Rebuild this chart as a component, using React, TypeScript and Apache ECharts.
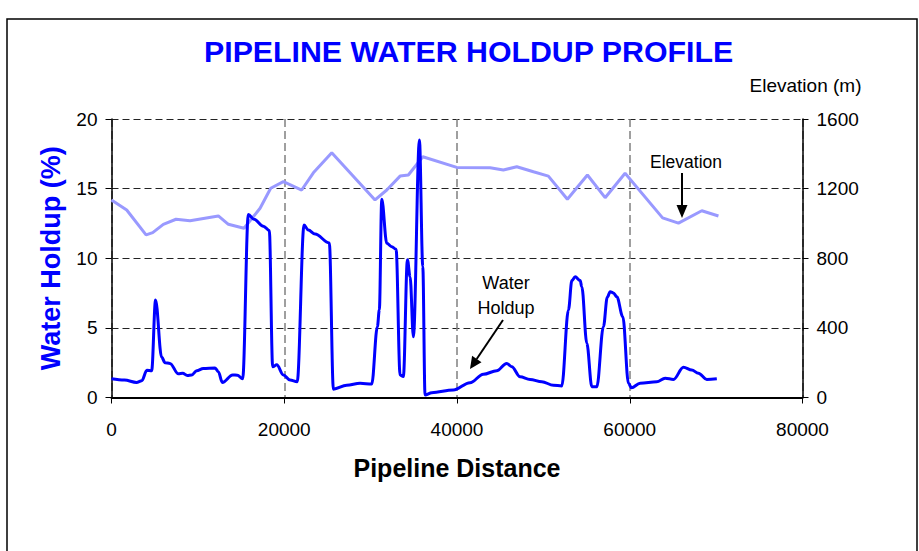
import React, { useEffect, useRef } from "react";
import * as echarts from "echarts";

const titleText = "PIPELINE WATER HOLDUP PROFILE";
const xAxisName = "Pipeline Distance";
const leftAxisName = "Water Holdup (%)";
const rightAxisName = "Elevation (m)";

// [distance, water holdup %]
const holdup: [number, number][] = [
  [0, 1.35], [1500, 1.25], [2900, 1.08], [3500, 1.2], [4100, 1.95], [4650, 1.92],
  [5100, 7.0], [5800, 2.9], [6200, 2.5], [6770, 2.45], [7740, 1.7], [8240, 1.74],
  [8780, 1.58], [9280, 1.62], [9860, 1.92], [10630, 2.08], [11990, 2.12], [12370, 1.85],
  [12830, 1.08], [14030, 1.62], [14570, 1.6], [15190, 1.35], [15840, 13.15], [16500, 12.8],
  [17580, 12.3], [18270, 12.0], [18660, 2.2], [19130, 2.35], [19900, 1.62], [20670, 1.25],
  [21500, 1.13], [22290, 12.38], [22790, 12.02], [23570, 11.74], [25220, 11.1], [25690, 0.6],
  [27230, 0.88], [28780, 1.02], [30130, 0.97], [30780, 5.08], [31010, 6.3], [31290, 14.23],
  [31870, 11.07], [32450, 10.83], [32950, 10.64], [33410, 1.62], [33790, 1.5], [34260, 9.9],
  [34570, 8.67], [34950, 4.36], [35650, 18.5], [36040, 9.4], [36300, 0.18], [37080, 0.35],
  [39580, 0.54], [41510, 1.06], [43050, 1.67], [44600, 1.92], [45760, 2.45], [46340, 2.21],
  [47300, 1.49], [48460, 1.3], [49820, 1.13], [51160, 0.88], [52130, 0.83], [52900, 6.28],
  [53300, 8.4], [53680, 8.67], [54260, 8.4], [54450, 7.95], [55030, 3.89], [55610, 0.78],
  [56190, 0.78], [56950, 5.08], [57400, 7.2], [57730, 7.6], [58110, 7.5], [58500, 7.24],
  [59200, 5.8], [59850, 1.02], [60200, 0.7], [61200, 1.02], [63130, 1.13], [64100, 1.38],
  [65060, 1.3], [66220, 2.17], [67180, 1.97], [67950, 1.74], [68920, 1.3], [70080, 1.35],
];

// [distance, elevation m]
const elevation: [number, number][] = [
  [0, 1135], [1760, 1077], [4000, 934], [4770, 947], [6000, 995], [7470, 1024],
  [9090, 1016], [12370, 1043], [13530, 995], [15340, 972], [17200, 1087], [18430, 1202],
  [19900, 1240], [22020, 1192], [23370, 1291], [25500, 1406], [30510, 1135], [31870, 1192],
  [33410, 1272], [34370, 1278], [36040, 1383], [39970, 1322], [43830, 1320], [45370, 1307],
  [46920, 1326], [48850, 1297], [50580, 1272], [52780, 1139], [55100, 1278], [57150, 1148],
  [59460, 1288], [63800, 1032], [65640, 1002], [68340, 1073], [70270, 1043],
];

const FONT = "'Liberation Sans', Arial, sans-serif";
const plain = (v: number) => String(v);

export default function App() {
  const ref = useRef<HTMLDivElement>(null);
  useEffect(() => {
    if (!ref.current) return;
    const chart = echarts.init(ref.current, undefined, { renderer: "svg" });
    chart.setOption({
      animation: false,
      backgroundColor: "#ffffff",
      textStyle: { fontFamily: FONT },
      title: {
        text: titleText,
        left: 199,
        top: 31,
        textStyle: { color: "#0000ff", fontSize: 30.3, fontWeight: "bold", fontFamily: FONT },
      },
      grid: { left: 111.5, right: 116.5, top: 119, bottom: 153.5 },
      xAxis: {
        type: "value",
        min: 0,
        max: 80000,
        interval: 20000,
        name: xAxisName,
        nameLocation: "middle",
        nameGap: 58,
        nameTextStyle: { fontSize: 25, fontWeight: "bold", color: "#000", fontFamily: FONT },
        axisLine: { show: true, onZero: false, lineStyle: { color: "#000", width: 2 } },
        axisTick: { show: true, length: 6, lineStyle: { color: "#000" } },
        axisLabel: { fontSize: 19, color: "#000", margin: 22, fontFamily: FONT, formatter: plain },
        splitLine: { show: true, lineStyle: { color: "#808080", type: [8, 4], width: 1.5 } },
      },
      yAxis: [
        {
          type: "value",
          min: 0,
          max: 20,
          interval: 5,
          position: "left",
          name: leftAxisName,
          nameLocation: "middle",
          nameGap: 47,
          nameRotate: 90,
          nameTextStyle: { fontSize: 27, fontWeight: "bold", color: "#0000ff", fontFamily: FONT },
          axisLine: { show: true, onZero: false, lineStyle: { color: "#000", width: 1.5 } },
          axisTick: { show: true, length: 6, lineStyle: { color: "#000" } },
          axisLabel: { fontSize: 19, color: "#000", margin: 14, fontFamily: FONT, formatter: plain },
          splitLine: { show: true, lineStyle: { color: "#222", type: [7, 4], width: 1 } },
        },
        {
          type: "value",
          min: 0,
          max: 1600,
          interval: 400,
          position: "right",
          name: rightAxisName,
          nameLocation: "end",
          nameGap: 34,
          nameTextStyle: { fontSize: 19, color: "#000", align: "center", verticalAlign: "middle", padding: [0, 0, 0, 6], fontFamily: FONT },
          axisLine: { show: true, onZero: false, lineStyle: { color: "#000", width: 1.5 } },
          axisTick: { show: true, length: 6, lineStyle: { color: "#000" } },
          axisLabel: { fontSize: 19, color: "#000", margin: 14, fontFamily: FONT, formatter: plain },
          splitLine: { show: false },
        },
      ],
      series: [
        {
          name: "Elevation",
          type: "line",
          yAxisIndex: 1,
          data: elevation,
          symbol: "none",
          lineStyle: { color: "#9999ff", width: 3 },
          z: 2,
        },
        {
          name: "Water Holdup",
          type: "line",
          yAxisIndex: 0,
          data: holdup,
          symbol: "none",
          smooth: 0.35,
          smoothMonotone: "x",
          lineStyle: { color: "#0000ff", width: 3 },
          z: 3,
        },
      ],
      graphic: [
        {
          type: "rect",
          shape: { x: 7, y: 19, width: 910, height: 560 },
          style: { fill: "none", stroke: "#000", lineWidth: 1.5 },
          silent: true,
          z: -1,
        },
        {
          type: "text",
          x: 686,
          y: 162,
          style: { text: "Elevation", fontSize: 17.5, fill: "#000", align: "center", verticalAlign: "middle", fontFamily: FONT },
          z: 10,
        },
        {
          type: "line",
          shape: { x1: 682, y1: 173, x2: 682, y2: 207 },
          style: { stroke: "#000", lineWidth: 2 },
          z: 10,
        },
        {
          type: "polygon",
          shape: { points: [[682, 218], [676.5, 205], [687.5, 205]] },
          style: { fill: "#000" },
          z: 10,
        },
        {
          type: "text",
          x: 506,
          y: 283,
          style: { text: "Water", fontSize: 18, fill: "#000", align: "center", verticalAlign: "middle", fontFamily: FONT },
          z: 10,
        },
        {
          type: "text",
          x: 506,
          y: 308,
          style: { text: "Holdup", fontSize: 18, fill: "#000", align: "center", verticalAlign: "middle", fontFamily: FONT },
          z: 10,
        },
        {
          type: "line",
          shape: { x1: 503, y1: 320, x2: 476.7, y2: 359 },
          style: { stroke: "#000", lineWidth: 2 },
          z: 10,
        },
        {
          type: "polygon",
          shape: { points: [[470, 369], [481.5, 362.2], [472.1, 355.8]] },
          style: { fill: "#000" },
          z: 10,
        },
      ],
    });
    return () => chart.dispose();
  }, []);
  return (
    <div
      ref={ref}
      style={{ position: "absolute", left: 0, top: 0, width: 919, height: 551, background: "#fff" }}
    />
  );
}
